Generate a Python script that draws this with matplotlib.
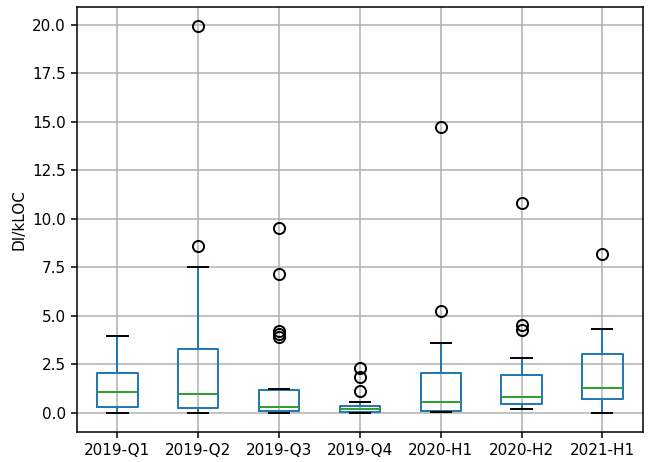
import matplotlib.pyplot as plt

# Periodos y estadísticas de cada caja
labels = ["2019-Q1", "2019-Q2", "2019-Q3", "2019-Q4", "2020-H1", "2020-H2", "2021-H1"]
whislo = [0.0, 0.0, 0.0, 0.0, 0.02, 0.2, 0.0]
q1 = [0.3, 0.22, 0.1, 0.05, 0.07, 0.45, 0.7]
med = [1.05, 0.95, 0.3, 0.2, 0.55, 0.8, 1.25]
q3 = [2.05, 3.3, 1.15, 0.33, 2.05, 1.95, 3.05]
whishi = [3.95, 7.5, 1.22, 0.55, 3.6, 2.8, 4.3]
fliers = [
    [],
    [8.6, 19.93],
    [3.9, 4.05, 4.2, 7.15, 9.5],
    [1.1, 1.85, 2.3],
    [5.25, 14.75],
    [4.25, 4.5, 10.8],
    [8.2],
]

stats = []
for i, lab in enumerate(labels):
    stats.append(dict(label=lab, whislo=whislo[i], q1=q1[i], med=med[i],
                      q3=q3[i], whishi=whishi[i], fliers=fliers[i]))

lw = 1.4
fig, ax = plt.subplots(figsize=(6.64, 4.62), dpi=100)
ax.bxp(stats,
       boxprops=dict(color="C0", linewidth=lw),
       whiskerprops=dict(color="C0", linewidth=lw),
       capprops=dict(color="k", linewidth=lw),
       medianprops=dict(color="C2", linewidth=lw),
       flierprops=dict(marker="o", markerfacecolor="none", markeredgecolor="k",
                       markersize=8, markeredgewidth=1.4))

ax.set_ylabel("DI/kLOC", fontsize=11)
ax.tick_params(labelsize=11, width=1.1, length=4.5)
for s in ax.spines.values():
    s.set_linewidth(1.1)
ax.grid(True, linewidth=1.1)
ax.set_axisbelow(True)

fig.subplots_adjust(left=0.116, right=0.968, top=0.985, bottom=0.065)
plt.savefig("out.png", dpi=100)
